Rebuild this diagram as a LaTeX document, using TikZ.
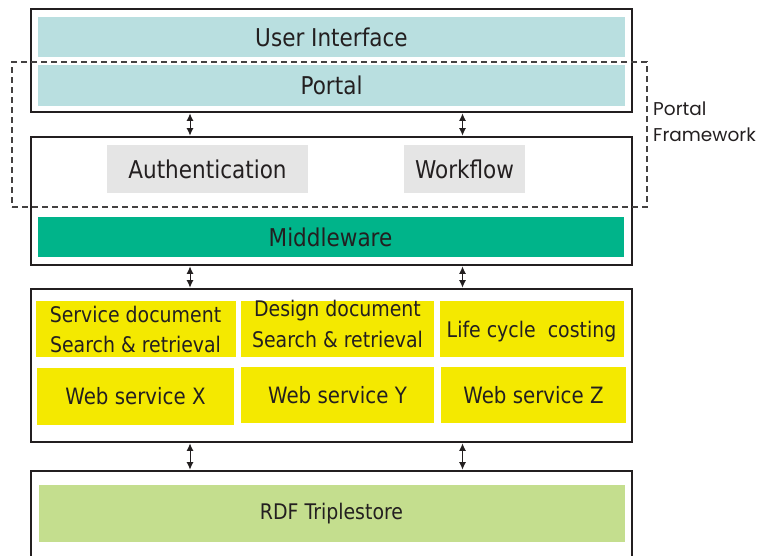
\documentclass[tikz,border=0pt]{standalone}
\usepackage{fontspec}
\setmainfont{DejaVu Sans}[FakeStretch=0.88]
\newfontfamily\pffont{Poppins}
\usetikzlibrary{arrows.meta}
\definecolor{ink}{HTML}{231F20}
\definecolor{uiblue}{HTML}{B9DFE0}
\definecolor{lgray}{HTML}{E5E5E5}
\definecolor{mwgreen}{HTML}{00B48A}
\definecolor{cyell}{HTML}{F4E900}
\definecolor{rdfgreen}{HTML}{C4DE8E}
\tikzset{
  layerbox/.style={draw=ink, line width=2.8pt, fill=white, inner sep=0pt, minimum width=601pt},
  band/.style={inner sep=0pt, text=ink, font=\fontsize{24.5}{28}\selectfont, minimum width=587pt, minimum height=40pt},
  cell/.style={inner sep=0pt, fill=cyell, text=ink, align=center, font=\fontsize{21.5}{30}\selectfont},
  dbl/.style={{Latex[length=7.5pt,width=7pt]}-{Latex[length=7.5pt,width=7pt]}, draw=ink, line width=1pt},
}
\begin{document}
\begin{tikzpicture}[x=1pt,y=-1pt]
\useasboundingbox (0,0) rectangle (765,555);
% layer boxes
\node[layerbox, minimum height=103pt] (box1) at (331.5,60.5) {};
\node[layerbox, minimum height=128pt] (box2) at (331.5,201) {};
\node[layerbox, minimum height=153pt] (box3) at (331.5,365.5) {};
\node[layerbox, minimum height=120pt] (box4) at (331.5,531) {};
% box 1 bands
\node[band, fill=uiblue] (ui) at (331.5,37) {User Interface};
\node[band, fill=uiblue, minimum height=41pt] (portal) at (331.5,85.5) {Portal};
% box 2
\node[band, fill=lgray, minimum width=201pt, minimum height=48pt] (auth) at (207.5,169) {Authentication};
\node[band, fill=lgray, minimum width=121pt, minimum height=48pt] (wf) at (464.5,169) {Workflow};
\node[band, fill=mwgreen, minimum width=586pt] (mw) at (330.5,237) {Middleware};
% box 3 cells
\node[cell, minimum width=200pt, minimum height=56pt] (sdoc) at (135.5,329) {Service document\\Search \& retrieval};
\node[cell, minimum width=193pt, minimum height=56pt, font=\fontsize{21.5}{31}\selectfont] (ddoc) at (337.5,329) {\raisebox{3pt}[16pt][5pt]{Design document}\\\raisebox{3pt}[16pt][5pt]{Search \& retrieval}};
\node[cell, minimum width=184pt, minimum height=56pt] (lcc) at (531.5,329) {\raisebox{-3pt}[16pt][5pt]{Life cycle\ \ costing}};
\node[cell, minimum width=197pt, minimum height=57pt, font=\fontsize{22.5}{28}\selectfont] (wsx) at (135.5,396.5) {Web service X};
\node[cell, minimum width=193pt, minimum height=56pt, font=\fontsize{22.5}{28}\selectfont] (wsy) at (337.5,395) {Web service Y};
\node[cell, minimum width=185pt, minimum height=56pt, font=\fontsize{22.5}{28}\selectfont] (wsz) at (533.5,395) {Web service Z};
% box 4
\node[band, fill=rdfgreen, minimum width=586pt, minimum height=57pt, font=\fontsize{21.5}{28}\selectfont] (rdf) at (331.5,513.5) {RDF Triplestore};
% connectors
\coordinate (cl) at (190,0);
\coordinate (cr) at (462.5,0);
\draw[dbl] (cl |- box1.south) -- (cl |- box2.north);
\draw[dbl] (cr |- box1.south) -- (cr |- box2.north);
\draw[dbl] (cl |- box2.south) -- (cl |- box3.north);
\draw[dbl] (cr |- box2.south) -- (cr |- box3.north);
\draw[dbl] (cl |- box3.south) -- (cl |- box4.north);
\draw[dbl] (cr |- box3.south) -- (cr |- box4.north);
% portal framework
\node[draw=ink!85, dash pattern=on 6pt off 4pt, line width=1.1pt, inner sep=0pt, minimum width=635pt, minimum height=145pt] (pf) at (329.5,134.5) {};
\node[anchor=west, inner sep=0pt, text=ink, align=left, font=\pffont\fontsize{18.5}{26}\selectfont] (pflabel) at (653,122) {Portal\\Framework};
\end{tikzpicture}
\end{document}
